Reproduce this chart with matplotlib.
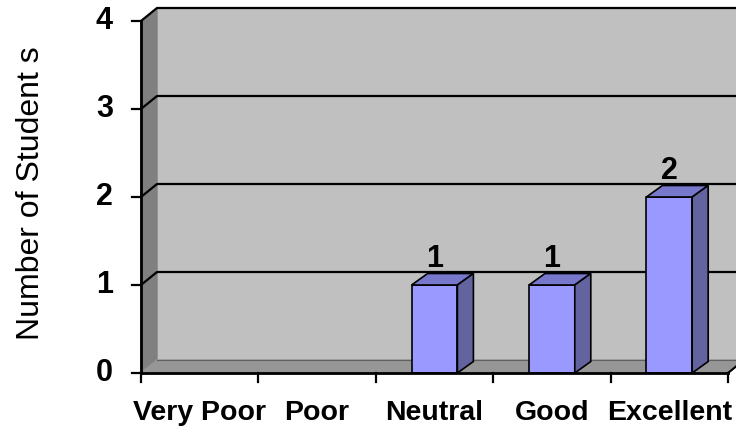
import matplotlib
matplotlib.use("Agg")
import matplotlib.pyplot as plt

categories = ["Very Poor", "Poor", "Neutral", "Good", "Excellent"]
counts = [0, 0, 1, 1, 2]
yticks = [0, 1, 2, 3, 4]

plt.rcParams['font.family'] = ['Liberation Sans', 'DejaVu Sans']

W, H = 736, 434
fig = plt.figure(figsize=(W / 100, H / 100), dpi=100)
# front plane of the 3d box, in pixels
x0, x1, y0, y1 = 141, 728, 373, 21
ax = fig.add_axes([x0 / W, 1 - y0 / H, (x1 - x0) / W, (y0 - y1) / H])
n = len(categories)
ymax = yticks[-1]
ax.set_xlim(0, n)
ax.set_ylim(0, ymax)
ax.axis('off')

# depth offsets in data units
px = n / (x1 - x0)
py = ymax / (y0 - y1)
dx, dy = 16 * px, 13 * py
bdx, bdy = 16 * px, 11.5 * py

# back wall, left wall, floor
ax.fill([dx, n + dx + 1, n + dx + 1, dx], [dy, dy, ymax + dy, ymax + dy],
        color='#c0c0c0', clip_on=False, zorder=1)
ax.fill([0, dx, dx, 0], [0, dy, ymax + dy, ymax], color='#808080',
        clip_on=False, zorder=2)
ax.fill([0, n, n + dx, dx], [0, 0, dy, dy], color='#969696',
        clip_on=False, zorder=2)
ax.plot([dx, n + dx + 1], [dy, dy], color='#606060', lw=0.8,
        clip_on=False, zorder=2)

# gridlines on the back wall and the left wall
for t in yticks[1:]:
    ax.plot([0, dx, n + dx + 1], [t, t + dy, t + dy], color='black', lw=1.6,
            clip_on=False, zorder=3)

# axes lines and ticks
ax.plot([0, 0], [0, ymax], color='black', lw=2, clip_on=False, zorder=6)
ax.plot([0, n], [0, 0], color='black', lw=2, clip_on=False, zorder=6)
ax.plot([n, n + dx * 0.5], [0, dy * 0.5], color='black', lw=1.5,
        clip_on=False, zorder=6)
tl = 9
for t in yticks:
    ax.plot([-tl * px, 0], [t, t], color='black', lw=1.6, clip_on=False, zorder=6)
    ax.text(-28 * px, t, str(t), ha='right', va='center', fontsize=22,
            fontweight='bold')
for i in range(n + 1):
    ax.plot([i, i], [0, -tl * py], color='black', lw=1.6, clip_on=False, zorder=6)
for i, c in enumerate(categories):
    ax.text(i + 0.5, -40 * py, c, ha='center', va='center', fontsize=20.5,
            fontweight='bold')

# 3d bars
bw = 0.39
for i, v in enumerate(counts):
    if v <= 0:
        continue
    l, r = i + 0.5 - bw / 2, i + 0.5 + bw / 2
    ax.fill([l, r, r, l], [0, 0, v, v], facecolor='#9999ff', edgecolor='black',
            lw=1.2, clip_on=False, zorder=4)
    ax.fill([l, r, r + bdx, l + bdx], [v, v, v + bdy, v + bdy],
            facecolor='#7777cc', edgecolor='black', lw=1.2, clip_on=False, zorder=4)
    ax.fill([r, r + bdx, r + bdx, r], [0, bdy, v + bdy, v],
            facecolor='#63639f', edgecolor='black', lw=1.2, clip_on=False, zorder=4)
    ax.annotate(str(v), (i + 0.5, v), xytext=(0, 13), textcoords='offset points',
                ha='center', va='baseline', fontsize=22, fontweight='bold')

fig.text(31 / W, 1 - 193 / H, "Number of Student s", rotation=90,
         ha='center', va='center', fontsize=23)

fig.savefig("out.png", dpi=100)
